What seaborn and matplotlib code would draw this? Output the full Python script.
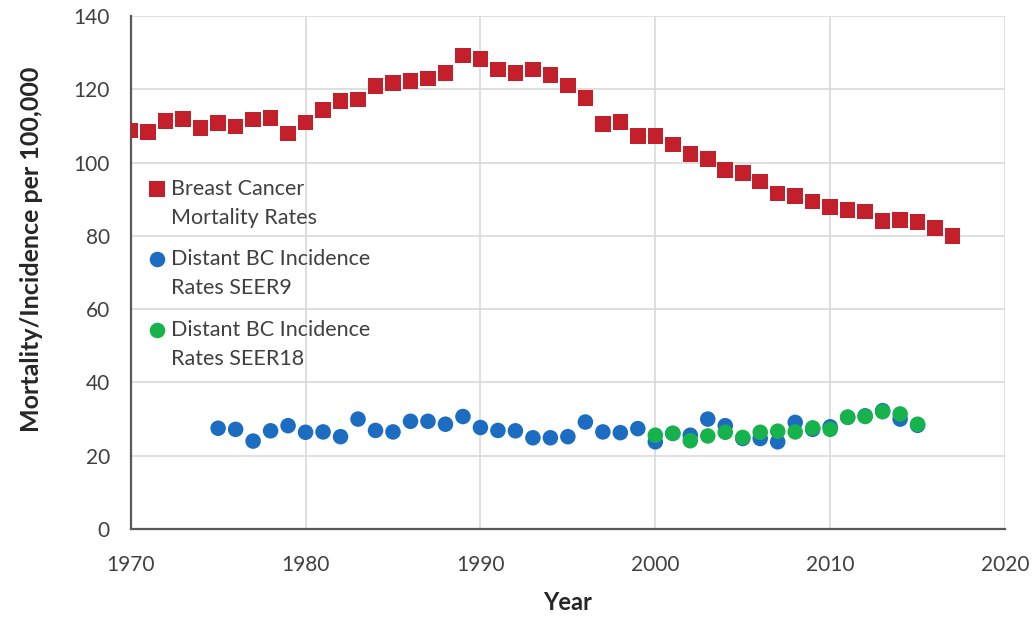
import matplotlib
matplotlib.use("Agg")

import matplotlib.pyplot as plt
import pandas as pd
import seaborn as sns
from matplotlib.collections import PathCollection
from matplotlib.legend_handler import HandlerPathCollection

# breast cancer mortality, 1970-2017
mort_years = list(range(1970, 2018))
mort_rates = [108.8, 108.4, 111.4, 111.9, 109.5, 110.8, 109.9, 111.8, 112.2, 107.9,
              110.9, 114.3, 116.8, 117.2, 120.9, 121.8, 122.3, 123.0, 124.4, 129.2,
              128.3, 125.4, 124.5, 125.4, 123.9, 121.1, 117.7, 110.6, 111.1, 107.2,
              107.2, 104.9, 102.4, 101.0, 98.0, 97.1, 94.9, 91.6, 90.9, 89.4,
              87.9, 87.1, 86.6, 84.1, 84.3, 83.8, 82.2, 80.0]

# distant BC incidence, SEER9, 1975-2015
seer9_years = list(range(1975, 2016))
seer9_rates = [27.5, 27.2, 24.0, 26.8, 28.2, 26.4, 26.5, 25.2, 30.0, 26.9,
               26.5, 29.4, 29.4, 28.6, 30.7, 27.7, 26.9, 26.8, 24.9, 24.9,
               25.2, 29.2, 26.5, 26.3, 27.4, 23.8, 26.1, 25.6, 30.0, 28.2,
               24.7, 24.7, 23.8, 29.1, 27.2, 27.9, 30.5, 30.9, 32.3, 30.0, 28.3]

# distant BC incidence, SEER18, 2000-2015
seer18_years = list(range(2000, 2016))
seer18_rates = [25.6, 26.1, 24.1, 25.4, 26.4, 25.0, 26.4, 26.7, 26.5, 27.6,
                27.2, 30.5, 30.7, 32.0, 31.4, 28.6]

series_labels = ["Breast Cancer\nMortality Rates",
                 "Distant BC Incidence\nRates SEER9",
                 "Distant BC Incidence\nRates SEER18"]
series_colors = ["#C3202B", "#1C6DC1", "#16B24B"]
series_markers = ["s", "o", "o"]

df = pd.concat([
    pd.DataFrame({"year": mort_years, "rate": mort_rates, "series": series_labels[0]}),
    pd.DataFrame({"year": seer9_years, "rate": seer9_rates, "series": series_labels[1]}),
    pd.DataFrame({"year": seer18_years, "rate": seer18_rates, "series": series_labels[2]}),
], ignore_index=True)

sns.set_style("white")
plt.rcParams["font.family"] = ["Lato", "DejaVu Sans"]

fig = plt.figure(figsize=(10.34, 6.18), dpi=100)
ax = fig.add_axes([0.1264, 0.144, 0.8456, 0.830])

sns.scatterplot(data=df, x="year", y="rate", hue="series", style="series",
                hue_order=series_labels, style_order=series_labels,
                palette=dict(zip(series_labels, series_colors)),
                markers=dict(zip(series_labels, series_markers)),
                s=125, linewidth=0, ax=ax, zorder=3, legend=False)

ax.set_xlim(1970, 2020)
ax.set_ylim(0, 140)
ax.set_xticks(range(1970, 2021, 10))
ax.set_yticks(range(0, 141, 20))
ax.grid(True, color="#D9D9D9", linewidth=1.2)
ax.set_axisbelow(True)

for side in ["top", "right"]:
    ax.spines[side].set_visible(False)
for side in ["left", "bottom"]:
    ax.spines[side].set_color("#595959")
    ax.spines[side].set_linewidth(1.6)

ax.tick_params(axis="both", labelsize=15, colors="#404040", length=0)
ax.tick_params(axis="x", pad=19)
ax.tick_params(axis="y", pad=15)
ax.set_xlabel("Year", fontsize=17, fontweight="bold", color="#262626", labelpad=11)
ax.set_ylabel("Mortality/Incidence per 100,000", fontsize=18, fontweight="bold",
              color="#262626")
ax.yaxis.set_label_coords(-0.100, 0.546)

# Excel-style legend: marker sits next to the first line of each label
handles = [ax.scatter([], [], marker=m, color=c, s=125, linewidth=0)
           for m, c in zip(series_markers, series_colors)]
leg = ax.legend(handles, series_labels, loc="upper left", bbox_to_anchor=(-0.002, 0.72),
                frameon=False, fontsize=15.5, labelcolor="#404040",
                handlelength=0.8, handletextpad=0.25, labelspacing=1.0,
                handler_map={PathCollection: HandlerPathCollection(yoffsets=[1.5])})
for t in leg.get_texts():
    t.set_linespacing(1.55)

fig.savefig("out.png", dpi=100)
plt.close(fig)
